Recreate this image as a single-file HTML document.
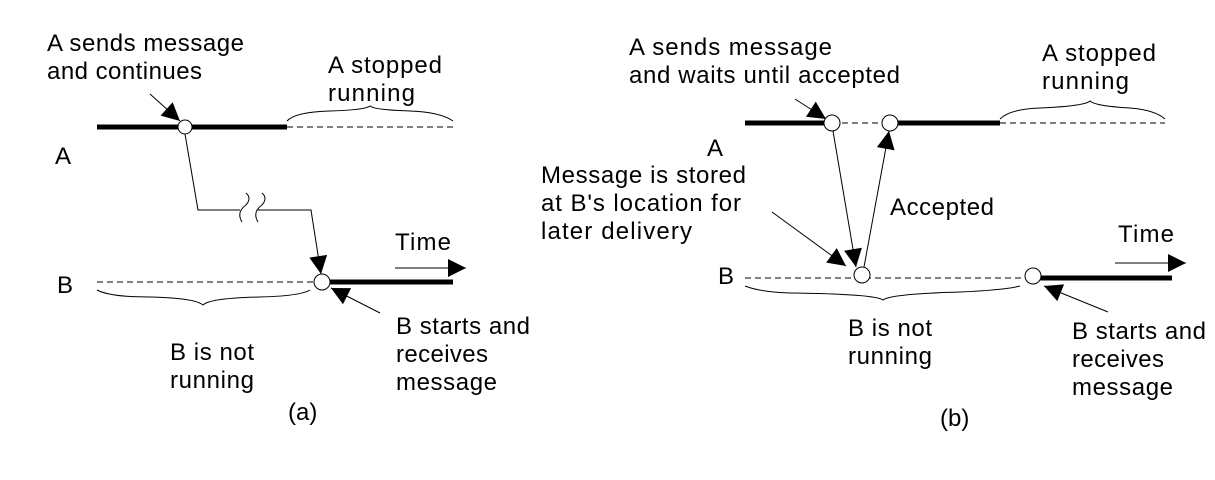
<!DOCTYPE html>
<html><head><meta charset="utf-8"><style>
html,body{margin:0;padding:0;background:#fff;}
svg{display:block;}
text{font-family:"Liberation Sans",Arial,sans-serif;font-size:24px;fill:#000;}
</style></head><body>
<svg width="1215" height="480" viewBox="0 0 1215 480" xmlns="http://www.w3.org/2000/svg">
<defs>
<marker id="ah2" viewBox="0 0 10 10" refX="10" refY="5" markerWidth="22" markerHeight="18" markerUnits="userSpaceOnUse" orient="auto"><path d="M0,0 L10,5 L0,10 z" fill="#000"/></marker>
</defs>
<g stroke="#000" fill="none">
<!-- (a) -->
<line x1="97" y1="127" x2="180" y2="127" stroke-width="5"/>
<line x1="190" y1="127" x2="287" y2="127" stroke-width="5"/>
<line x1="287" y1="127" x2="453" y2="127" stroke-dasharray="6,4" stroke-width="1"/>
<path d="M287,121 Q295,112 330,111 Q365,110 370,106 Q375,110 410,111 Q440,112 453,121" stroke-width="1"/>
<line x1="150" y1="94" x2="180" y2="121" stroke-width="1" marker-end="url(#ah2)"/>
<polyline points="185,134 198,210 240,210" stroke-width="1"/>
<path d="M246,193 Q252,198 246,205 Q236,212 242,222 M262,193 Q268,198 262,205 Q252,212 258,222" stroke-width="1"/>
<polyline points="257,210 311,210 321,274" stroke-width="1" marker-end="url(#ah2)"/>
<line x1="97" y1="282" x2="316" y2="282" stroke-dasharray="6,4" stroke-width="1"/>
<line x1="329" y1="282" x2="453" y2="282" stroke-width="5"/>
<path d="M97,290 Q110,297 150,297 Q195,298 203,305 Q210,298 260,297 Q300,296 310,290" stroke-width="1"/>
<line x1="395" y1="268" x2="466" y2="268" stroke-width="1" marker-end="url(#ah2)"/>
<line x1="380" y1="313" x2="331" y2="288" stroke-width="1" marker-end="url(#ah2)"/>
<circle cx="185" cy="127" r="7" fill="#fff" stroke-width="1"/>
<circle cx="322" cy="282" r="8" fill="#fff" stroke-width="1"/>
<!-- (b) -->
<line x1="745" y1="123" x2="824" y2="123" stroke-width="5"/>
<line x1="832" y1="123" x2="890" y2="123" stroke-dasharray="6,4" stroke-width="1"/>
<line x1="898" y1="123" x2="1000" y2="123" stroke-width="5"/>
<line x1="1000" y1="123" x2="1165" y2="123" stroke-dasharray="6,4" stroke-width="1"/>
<path d="M1000,119 Q1010,109 1040,108 Q1085,106 1090,101 Q1095,106 1130,108 Q1155,110 1165,119" stroke-width="1"/>
<line x1="795" y1="99" x2="826" y2="119" stroke-width="1" marker-end="url(#ah2)"/>
<line x1="833" y1="131" x2="856" y2="267" stroke-width="1" marker-end="url(#ah2)"/>
<line x1="864" y1="267" x2="889" y2="131" stroke-width="1" marker-end="url(#ah2)"/>
<line x1="772" y1="212" x2="846" y2="266" stroke-width="1" marker-end="url(#ah2)"/>
<line x1="745" y1="278" x2="1026" y2="278" stroke-dasharray="6,4" stroke-width="1"/>
<line x1="1040" y1="278" x2="1172" y2="278" stroke-width="5"/>
<path d="M745,286 Q760,292 790,293 Q875,294 883,300 Q890,294 960,292 Q1005,290 1020,286" stroke-width="1"/>
<line x1="1115" y1="263" x2="1186" y2="263" stroke-width="1" marker-end="url(#ah2)"/>
<line x1="1108" y1="312" x2="1044" y2="286" stroke-width="1" marker-end="url(#ah2)"/>
<circle cx="832" cy="123" r="8" fill="#fff" stroke-width="1"/>
<circle cx="890" cy="123" r="8" fill="#fff" stroke-width="1"/>
<circle cx="862" cy="275" r="8" fill="#fff" stroke-width="1"/>
<circle cx="1033" cy="276" r="8" fill="#fff" stroke-width="1"/>
</g>
<!-- text (a) -->
<text x="47" y="51" textLength="197">A sends message</text>
<text x="47" y="79" textLength="155">and continues</text>
<text x="328" y="73" textLength="114">A stopped</text>
<text x="328" y="101" textLength="87">running</text>
<text x="55" y="164">A</text>
<text x="57" y="293">B</text>
<text x="395" y="250" textLength="56">Time</text>
<text x="170" y="360" textLength="84">B is not</text>
<text x="170" y="388" textLength="84">running</text>
<text x="396" y="334" textLength="134">B starts and</text>
<text x="396" y="362" textLength="92">receives</text>
<text x="396" y="390" textLength="101">message</text>
<text x="288" y="420">(a)</text>
<!-- text (b) -->
<text x="629" y="55" textLength="203">A sends message</text>
<text x="629" y="83" textLength="271">and waits until accepted</text>
<text x="1042" y="61" textLength="114">A stopped</text>
<text x="1042" y="89" textLength="87">running</text>
<text x="707" y="156">A</text>
<text x="541" y="183" textLength="205">Message is stored</text>
<text x="541" y="211" textLength="200">at B's location for</text>
<text x="541" y="239" textLength="151">later delivery</text>
<text x="890" y="215" textLength="104">Accepted</text>
<text x="718" y="284">B</text>
<text x="1118" y="242" textLength="56">Time</text>
<text x="848" y="336" textLength="84">B is not</text>
<text x="848" y="364" textLength="84">running</text>
<text x="1072" y="339" textLength="134">B starts and</text>
<text x="1072" y="367" textLength="92">receives</text>
<text x="1072" y="395" textLength="101">message</text>
<text x="940" y="426">(b)</text>
</svg>
</body></html>
